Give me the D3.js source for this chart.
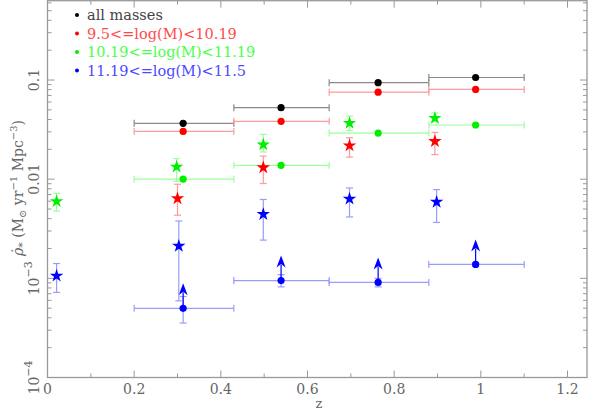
<!DOCTYPE html>
<html><head><meta charset="utf-8">
<script src="https://cdn.jsdelivr.net/npm/d3@7/dist/d3.min.js"></script>
<style>body{margin:0;background:#fff}svg{display:block}text{font-family:"DejaVu Serif","Liberation Serif",serif}</style>
</head><body><svg id="c" width="589" height="410"></svg>
<script>
// ---- data ----
const binLo = [0.2, 0.43, 0.65, 0.88];
const binHi = [0.43, 0.65, 0.88, 1.1];
const binZ  = [0.313, 0.539, 0.763, 0.988];
const allMasses = [0.0366, 0.0526, 0.094, 0.106];
const lowMass   = [0.0303, 0.0383, 0.0755, 0.0803];
const midMass   = [0.0100, 0.0138, 0.0292, 0.0352];
const highMass  = [4.98e-4, 9.5e-4, 9.1e-4, 1.38e-3];
const highMassErrLo = [3.54e-4, 8.2e-4, 8.2e-4, 1.32e-3];
const highMassErrHi = [6.56e-4, 1.09e-3, 9.98e-4, 1.43e-3];

const greenStarZ  = [0.021, 0.298, 0.498, 0.697, 0.894];
const greenStar   = [0.00598, 0.0133, 0.0223, 0.0368, 0.0413];
const greenStarLo = [0.00478, 0.00953, 0.0188, 0.0310, 0.0377];
const greenStarHi = [0.00719, 0.0161, 0.0283, 0.0433, 0.0465];

const redStarZ  = [0.300, 0.498, 0.697, 0.894];
const redStar   = [0.00638, 0.0131, 0.0218, 0.0241];
const redStarLo = [0.00433, 0.00904, 0.0167, 0.0177];
const redStarHi = [0.00889, 0.0171, 0.0262, 0.0296];

const blueStarZ  = [0.021, 0.303, 0.498, 0.697, 0.898];
const blueStar   = [1.06e-3, 2.12e-3, 4.43e-3, 6.33e-3, 5.89e-3];
const blueStarLo = [7.21e-4, 5.93e-4, 2.43e-3, 4.16e-3, 3.66e-3];
const blueStarHi = [1.41e-3, 3.79e-3, 6.24e-3, 8.15e-3, 7.85e-3];

const legendLabels = ["all masses", "9.5<=log(M)<10.19", "10.19<=log(M)<11.19", "11.19<=log(M)<11.5"];
const xTicks = [0, 0.2, 0.4, 0.6, 0.8, 1, 1.2];
const xTickLabels = ["0", "0.2", "0.4", "0.6", "0.8", "1", "1.2"];
const yTicks = [1e-4, 1e-3, 1e-2, 1e-1];

// ---- drawing ----
const svg = d3.select("#c");
const L = 47.5, R = 587, T = 0.7, B = 377.5;
const x = d3.scaleLinear().domain([0, 1.245]).range([L, R]);
const y = d3.scaleLog().domain([1e-4, Math.pow(10, -0.2)]).range([B, T]);

const axisCol = "#999";
const textCol = "#666";
const full = {k:"#000", r:"#ff0000", g:"#00ee00", b:"#0000ff"};
const pale = {k:"#8a8a8a", r:"#ff9a9a", g:"#9cff9c", b:"#9a9aff"};

// frame
const g = svg.append("g");
g.append("rect").attr("x", L).attr("y", T).attr("width", R - L).attr("height", B - T)
  .attr("fill", "none").attr("stroke", axisCol).attr("stroke-width", 1.3);

// x ticks (bottom & top, inside)
const xMinor = d3.range(0.1, 1.25, 0.2);
xTicks.forEach(v => {
  g.append("line").attr("x1", x(v)).attr("x2", x(v)).attr("y1", B).attr("y2", B - 7).attr("stroke", axisCol);
  g.append("line").attr("x1", x(v)).attr("x2", x(v)).attr("y1", T).attr("y2", T + 7).attr("stroke", axisCol);
});
xMinor.forEach(v => {
  g.append("line").attr("x1", x(v)).attr("x2", x(v)).attr("y1", B).attr("y2", B - 4).attr("stroke", axisCol);
  g.append("line").attr("x1", x(v)).attr("x2", x(v)).attr("y1", T).attr("y2", T + 4).attr("stroke", axisCol);
});
g.selectAll(".xl").data(xTicks).enter().append("text")
  .attr("x", d => x(d)).attr("y", 394).attr("text-anchor", "middle")
  .attr("font-size", 14).attr("fill", textCol).text((d, i) => xTickLabels[i]);
g.append("text").attr("x", 319).attr("y", 408).attr("text-anchor", "middle")
  .attr("font-size", 13).attr("fill", textCol).text("z");

// y ticks (left & right, inside)
const yMinor = [];
[1e-4, 1e-3, 1e-2, 1e-1].forEach(d => { for (let m = 2; m <= 9; m++) { const v = d * m; if (v < y.domain()[1]) yMinor.push(v); } });
yTicks.forEach(v => {
  g.append("line").attr("x1", L).attr("x2", L + 7).attr("y1", y(v)).attr("y2", y(v)).attr("stroke", axisCol);
  g.append("line").attr("x1", R).attr("x2", R - 7).attr("y1", y(v)).attr("y2", y(v)).attr("stroke", axisCol);
});
yMinor.forEach(v => {
  g.append("line").attr("x1", L).attr("x2", L + 4).attr("y1", y(v)).attr("y2", y(v)).attr("stroke", axisCol);
  g.append("line").attr("x1", R).attr("x2", R - 4).attr("y1", y(v)).attr("y2", y(v)).attr("stroke", axisCol);
});
yTicks.forEach(v => {
  const t = g.append("text").attr("transform", `translate(39,${y(v)}) rotate(-90)`)
    .attr("text-anchor", "middle").attr("font-size", 14).attr("fill", textCol);
  const e = Math.round(Math.log10(v));
  if (e >= -2) t.text(v === 0.1 ? "0.1" : "0.01");
  else {
    t.append("tspan").text("10");
    t.append("tspan").attr("dy", -7).attr("font-size", 11).text("\u2212" + (-e));
  }
});

// y label
const yl = g.append("text").attr("transform", "translate(23,188) rotate(-90)")
  .attr("text-anchor", "middle").attr("font-size", 14).attr("fill", textCol);
yl.append("tspan").attr("font-style", "italic").text("\u03c1\u0307");
yl.append("tspan").attr("dy", 3).attr("font-size", 11).text("*");
yl.append("tspan").attr("dy", -3).text(" (M");
yl.append("tspan").attr("dy", 3).attr("font-size", 10).text("\u2299");
yl.append("tspan").attr("dy", -3).text(" yr");
yl.append("tspan").attr("dy", -6).attr("font-size", 10).text("\u22121");
yl.append("tspan").attr("dy", 6).text(" Mpc");
yl.append("tspan").attr("dy", -6).attr("font-size", 10).text("\u22123");
yl.append("tspan").attr("dy", 6).text(")");

const cap = 3.5;
function hbars(vals, col) {
  vals.forEach((v, i) => {
    const yy = y(v);
    g.append("line").attr("x1", x(binLo[i])).attr("x2", x(binHi[i])).attr("y1", yy).attr("y2", yy).attr("stroke", col).attr("stroke-width", 1.2);
    [binLo[i], binHi[i]].forEach(z => g.append("line").attr("x1", x(z)).attr("x2", x(z)).attr("y1", yy - cap).attr("y2", yy + cap).attr("stroke", col).attr("stroke-width", 1.2));
  });
}
function vbars(zs, lo, hi, col) {
  zs.forEach((z, i) => {
    const xx = x(z);
    g.append("line").attr("x1", xx).attr("x2", xx).attr("y1", y(lo[i])).attr("y2", y(hi[i])).attr("stroke", col).attr("stroke-width", 1.2);
    [lo[i], hi[i]].forEach(v => g.append("line").attr("x1", xx - cap).attr("x2", xx + cap).attr("y1", y(v)).attr("y2", y(v)).attr("stroke", col).attr("stroke-width", 1.2));
  });
}
function dots(zs, vals, col) {
  zs.forEach((z, i) => g.append("circle").attr("cx", x(z)).attr("cy", y(vals[i])).attr("r", 3.6).attr("fill", col));
}
const starPath = d3.symbol().type(d3.symbolStar).size(56)();
function stars(zs, vals, col) {
  zs.forEach((z, i) => g.append("path").attr("d", starPath)
    .attr("transform", `translate(${x(z)},${y(vals[i])})`).attr("fill", col));
}

// binned points with horizontal error bars
hbars(allMasses, pale.k); hbars(lowMass, pale.r); hbars(midMass, pale.g); hbars(highMass, pale.b);
vbars(binZ, highMassErrLo, highMassErrHi, pale.b);
// lower-limit arrows for high mass
binZ.forEach((z, i) => {
  const xx = x(z), yy = y(highMass[i]);
  g.append("line").attr("x1", xx).attr("x2", xx).attr("y1", yy).attr("y2", yy - 16).attr("stroke", full.b).attr("stroke-width", 1.2);
  g.append("path").attr("d", `M${xx},${yy - 25} L${xx + 4.5},${yy - 13} L${xx},${yy - 16.5} L${xx - 4.5},${yy - 13} Z`).attr("fill", full.b);
});
dots(binZ, allMasses, full.k); dots(binZ, lowMass, full.r); dots(binZ, midMass, full.g); dots(binZ, highMass, full.b);

// stars with vertical error bars
vbars(greenStarZ, greenStarLo, greenStarHi, pale.g);
vbars(redStarZ, redStarLo, redStarHi, pale.r);
vbars(blueStarZ, blueStarLo, blueStarHi, pale.b);
stars(greenStarZ, greenStar, full.g);
stars(redStarZ, redStar, full.r);
stars(blueStarZ, blueStar, full.b);

// legend
const legCols = [full.k, full.r, full.g, full.b];
const legText = ["#444", "#ff4a4a", "#4aff4a", "#4a4aff"];
legendLabels.forEach((t, i) => {
  const yy = 15 + i * 18.5;
  g.append("circle").attr("cx", 77).attr("cy", yy).attr("r", 2).attr("fill", legCols[i]);
  g.append("text").attr("x", 87).attr("y", yy + 5).attr("font-size", 14.5).attr("fill", legText[i]).text(t);
});
</script></body></html>
